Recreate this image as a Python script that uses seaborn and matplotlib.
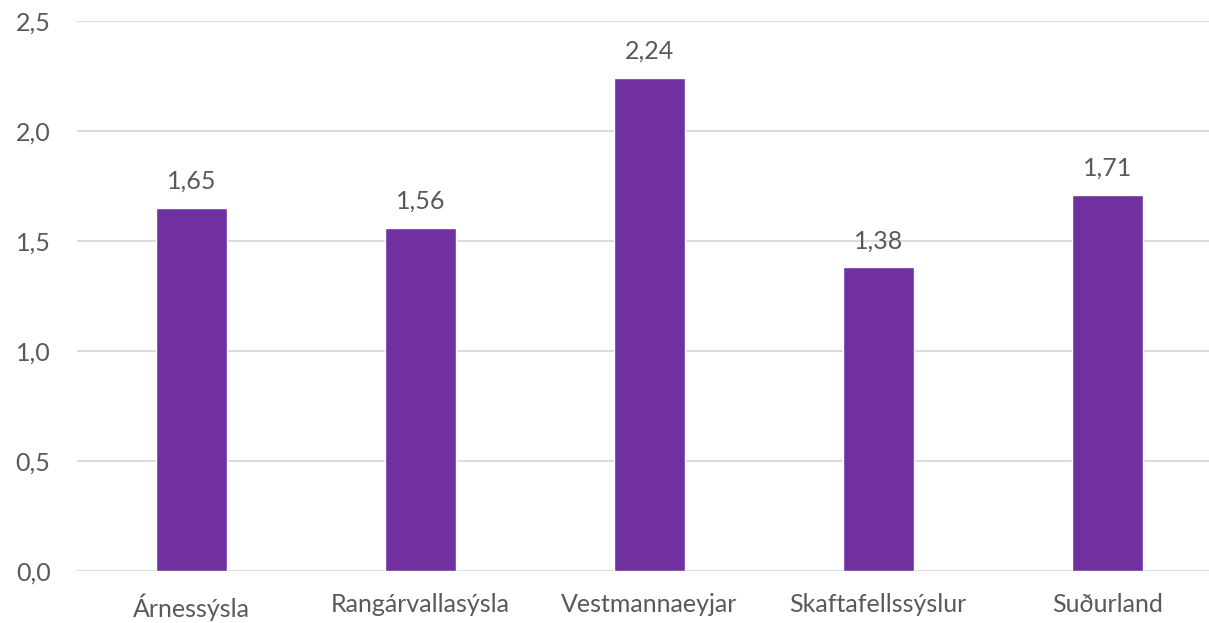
import matplotlib
matplotlib.use("Agg")
import matplotlib.pyplot as plt
import seaborn as sns
import pandas as pd
from matplotlib.ticker import FuncFormatter, MultipleLocator

# ── Data ──────────────────────────────────────────────────────
regions = ["Árnessýsla", "Rangárvallasýsla", "Vestmannaeyjar", "Skaftafellssýslur", "Suðurland"]
values = [1.65, 1.56, 2.24, 1.38, 1.71]

BAR = "#7030A0"
TXT = "#595959"
GRID = "#D9D9D9"

sns.set_theme(style="white")
plt.rcParams["font.family"] = ["Lato", "DejaVu Sans"]

df = pd.DataFrame({"region": regions, "value": values})

fig = plt.figure(figsize=(12.09, 6.23), dpi=100)
ax = fig.add_axes([77 / 1209, 52 / 623, (1209 - 77) / 1209, 550 / 623])

sns.barplot(data=df, x="region", y="value", color=BAR, width=0.31,
            saturation=1, ax=ax, zorder=3)

for c in ax.containers:
    ax.bar_label(c, labels=[f"{v:.2f}".replace(".", ",") for v in values],
                 padding=11, fontsize=18, color=TXT)

ax.set_ylim(0, 2.5)
ax.set_xlim(-0.5, 4.445)
ax.yaxis.set_major_locator(MultipleLocator(0.5))
ax.yaxis.set_major_formatter(FuncFormatter(lambda v, _: f"{v:.1f}".replace(".", ",")))
ax.grid(axis="y", color=GRID, linewidth=1.3, zorder=0)
ax.set_axisbelow(True)
for s in ax.spines.values():
    s.set_visible(False)
ax.set_xlabel("")
ax.set_ylabel("")
ax.tick_params(axis="y", length=0, pad=19, labelsize=18, labelcolor=TXT)
ax.tick_params(axis="x", length=0, pad=16, labelsize=18, labelcolor=TXT)

plt.savefig("out.png", dpi=100)
plt.close()
